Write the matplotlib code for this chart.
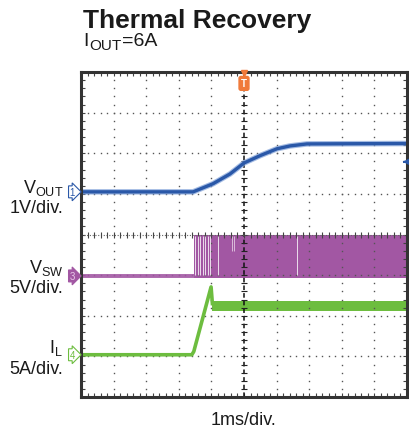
import numpy as np
import matplotlib.pyplot as plt

plt.rcParams['font.family'] = ['Liberation Sans', 'DejaVu Sans']

# time axis and traces in scope divisions (10 x 8 grid)
vout_t = [0, 3.44, 4.05, 4.57, 5.0, 5.49, 6.01, 6.41, 6.93, 10]
vout_v = [5.05, 5.05, 5.25, 5.49, 5.76, 5.94, 6.11, 6.18, 6.23, 6.24]

vsw_base = 2.98
vsw_low, vsw_high = 2.93, 3.99
vsw_start = 3.47
vsw_gaps = [3.51, 3.58, 3.66, 3.74, 3.81, 3.90, 3.97, 4.19, 6.62]
vsw_part_gaps = [4.62, 4.68]

il_t = [0, 3.40, 3.46, 3.99, 4.03]
il_v = [1.04, 1.04, 1.12, 2.71, 2.30]
il_band = (4.02, 2.12, 2.36)

blue = '#2a58a8'
purple = '#a257a3'
green = '#6dbd3f'
orange = '#f07a3a'
frame = '#333333'
txt = '#1a1a1a'

fig = plt.figure(figsize=(4.09, 4.35), dpi=100)
ax = fig.add_axes([81/409, 1-398/435, 326/409, 325/435])
ax.set_xlim(0, 10)
ax.set_ylim(0, 8)

# grid of dots
dots_y = np.arange(0, 8.01, 0.2)
dots_x = np.arange(0, 10.01, 0.2)
for gx in range(1, 10):
    if gx != 5:
        ax.plot([gx]*len(dots_y), dots_y, ls='none', marker='s', ms=1, color='#555555', mew=0)
for gy in range(1, 8):
    if gy != 4:
        ax.plot(dots_x, [gy]*len(dots_x), ls='none', marker='s', ms=1, color='#555555', mew=0)

# center lines with ticks
ax.plot([5, 5], [0, 8], color='#111111', lw=1.1, ls=(0, (3, 2)))
ax.plot([5]*len(dots_y), dots_y, ls='none', marker='_', ms=5, color='#222222', mew=0.8)
ax.plot([0, 10], [4, 4], color='#666666', lw=0.8, ls=(0, (1, 1.5)))
ax.plot(dots_x, [4]*len(dots_x), ls='none', marker='|', ms=5, color='#444444', mew=0.8)

# VSW
ax.plot([0, vsw_start], [vsw_base, vsw_base], color=purple, lw=2.8, alpha=0.9)
ax.fill_between([vsw_start, 10], vsw_low, vsw_high, color=purple, lw=0)
ax.vlines(vsw_gaps, vsw_low + 0.08, vsw_high - 0.02, color='white', lw=0.7, alpha=0.8)
ax.vlines(vsw_part_gaps, 3.6, vsw_high - 0.02, color='white', lw=0.7, alpha=0.6)

# IL
ax.plot(il_t, il_v, color=green, lw=2.6)
ax.fill_between([il_band[0], 10], il_band[1], il_band[2], color=green, lw=0)

# VOUT
ax.plot(vout_t, vout_v, color='#7fa0d8', lw=4.0, alpha=0.7, solid_capstyle='butt')
ax.plot(vout_t, vout_v, color=blue, lw=2.4, solid_capstyle='butt')

# frame
ax.set_xticks(dots_x)
ax.set_yticks(dots_y)
ax.tick_params(direction='in', length=3, width=0.8, color='#444444',
               top=True, right=True, labelbottom=False, labelleft=False)
for s in ax.spines.values():
    s.set_color(frame)
    s.set_linewidth(2.2)

# trigger marker and level arrow
ax.plot([5], [7.98], marker='v', ms=5, color=orange, clip_on=False, zorder=5)
ax.text(5, 7.72, 'T', ha='center', va='center', fontsize=7, color='white', fontweight='bold',
        bbox=dict(boxstyle='round,pad=0.2', fc=orange, ec=orange), zorder=6)
ax.annotate('', xy=(9.78, 5.79), xytext=(10.0, 5.79),
            arrowprops=dict(arrowstyle='-|>', color=blue, lw=1.3, mutation_scale=8))

# channel markers
ax.text(-0.27, 5.05, '1', ha='center', va='center', fontsize=7, color=blue, clip_on=False,
        bbox=dict(boxstyle='rarrow,pad=0.1', fc='white', ec=blue, lw=0.8))
ax.text(-0.27, 2.98, '3', ha='center', va='center', fontsize=7, color='#e8c8e8', clip_on=False,
        bbox=dict(boxstyle='rarrow,pad=0.1', fc=purple, ec=purple, lw=0.8))
ax.text(-0.27, 1.04, '4', ha='center', va='center', fontsize=7, color=green, clip_on=False,
        bbox=dict(boxstyle='rarrow,pad=0.1', fc='white', ec=green, lw=0.8))

# title and subtitle
fig.text(83/409, 1-28/435, 'Thermal Recovery', fontsize=19, fontweight='bold', color=txt)
t1 = fig.text(83/409, 1-46/435, 'I', fontsize=14, color=txt, va='baseline')
t2 = ax.annotate('OUT', xy=(1, 0), xycoords=t1, xytext=(1, -3), textcoords='offset pixels',
                 fontsize=11, color=txt, va='bottom')
ax.annotate('=6A', xy=(1, 0), xycoords=t2, xytext=(0, 3), textcoords='offset pixels',
            fontsize=14, color=txt, va='bottom')

# channel labels
fs = 13
fig.text(63/409, 1-193/435, r'$\mathregular{V_{OUT}}$', fontsize=fs, ha='right', color=txt)
fig.text(63/409, 1-213/435, '1V/div.', fontsize=fs, ha='right', color=txt)
fig.text(63/409, 1-273/435, r'$\mathregular{V_{SW}}$', fontsize=fs, ha='right', color=txt)
fig.text(63/409, 1-293/435, '5V/div.', fontsize=fs, ha='right', color=txt)
fig.text(63/409, 1-353/435, r'$\mathregular{I_{L}}$', fontsize=fs, ha='right', color=txt)
fig.text(63/409, 1-374/435, '5A/div.', fontsize=fs, ha='right', color=txt)
fig.text(244/409, 1-425/435, '1ms/div.', fontsize=fs, ha='center', color=txt)

fig.savefig('out.png', dpi=100)
